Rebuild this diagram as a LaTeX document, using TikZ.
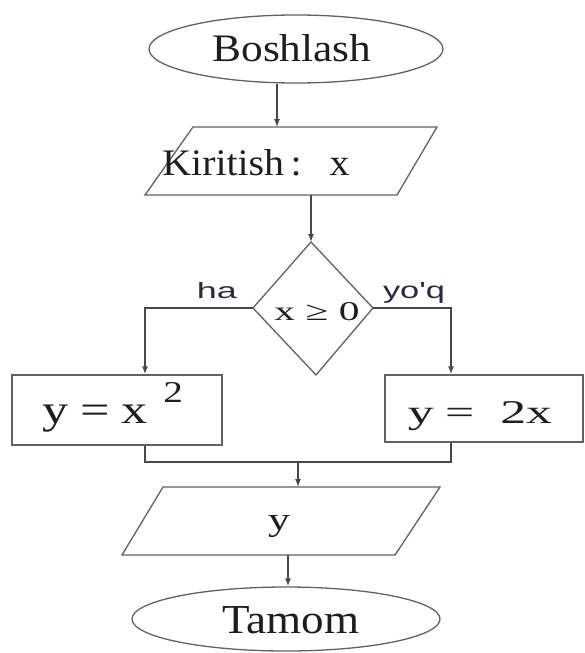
\documentclass[tikz,border=0pt]{standalone}
\usepackage{fontspec}
\usepackage{graphicx}
\usetikzlibrary{arrows.meta,shapes.geometric}
\newfontfamily\serifL{Liberation Serif}
\newfontfamily\sansL{Liberation Sans}
\newcommand{\fitbox}[3]{\resizebox{#1pt}{#2pt}{#3}}
\definecolor{linec}{HTML}{484848}
\definecolor{shapec}{HTML}{626262}
\definecolor{labc}{HTML}{2A2848}
\definecolor{txtc}{HTML}{1E1E1E}
\begin{document}
\begin{tikzpicture}[x=1pt,y=-1pt,
  conn/.style={draw=linec, line width=1.4pt},
  arr/.style={conn, -{Latex[length=8pt,width=6pt]}},
  shapeline/.style={draw=shapec, line width=1.3pt},
  term/.style={ellipse, shapeline, inner sep=0pt},
  procbox/.style={rectangle, shapeline, inner sep=0pt},
  txt/.style={inner sep=0pt, anchor=base, text=txtc},
  lab/.style={inner sep=0pt, anchor=base, text=labc},
]
\useasboundingbox[fill=white] (0,0) rectangle (585,653);

% start
\node[term, minimum width=294pt, minimum height=68pt] (start) at (296,49) {};
\node[txt] (starttext) at (292,61) {\fitbox{159}{27}{\serifL Boshlash}};

% input parallelogram
\coordinate (kTL) at (193,127);
\coordinate (kTR) at (437,127);
\coordinate (kBR) at (397,195);
\coordinate (kBL) at (145,195);
\draw[shapeline] (kTL) -- (kTR) -- (kBR) -- (kBL) -- cycle;
\node[txt] (input) at (256,175) {\fitbox{187}{26}{\serifL Kiritish\,:\hspace{0.7em}x}};

% decision diamond
\coordinate (dTop) at (311,242);
\coordinate (dRight) at (373,308);
\coordinate (dBot) at (316,375);
\coordinate (dLeft) at (253,308);
\draw[shapeline] (dTop) -- (dRight) -- (dBot) -- (dLeft) -- cycle;
\node[txt] (cond) at (317,320) {\fitbox{85}{18}{\serifL x ≥ 0}};

\node[lab] (yes) at (217,298) {\fitbox{40}{16}{\sansL ha}};
\node[lab] (no) at (414,298) {\fitbox{62}{16}{\sansL yo'q}};

% process boxes
\node[procbox, minimum width=210pt, minimum height=70pt] (lbox) at (117,410) {};
\node[txt] (ltext) at (113,423) {\fitbox{140}{41}{\serifL y\hspace{2.2pt}=\hspace{2.2pt}x\hspace{3pt}\raisebox{5.2pt}{\fontsize{7.5}{8}\selectfont 2}}};
\node[procbox, minimum width=198pt, minimum height=67pt] (rbox) at (484,408.5) {};
\node[txt] (rtext) at (480,423) {\fitbox{144}{22}{\serifL y\hspace{2.2pt}=\hspace{5pt}2x}};

% output parallelogram
\coordinate (oTL) at (163,487);
\coordinate (oTR) at (440,487);
\coordinate (oBR) at (395,555);
\coordinate (oBL) at (122,555);
\draw[shapeline] (oTL) -- (oTR) -- (oBR) -- (oBL) -- cycle;
\node[txt] (output) at (279,530) {\fitbox{22}{15}{\serifL y}};

% stop
\node[term, minimum width=308pt, minimum height=64pt] (stop) at (286,619) {};
\node[txt] (stoptext) at (291,633) {\fitbox{137}{27}{\serifL Tamom}};

% connectors
\coordinate (a1) at (277,127);
\draw[arr] (a1 |- start.south) -- (a1);
\draw[arr] (dTop |- kBL) -- (dTop);

\coordinate (lCorner) at (145,308);
\coordinate (rCorner) at (451,308);
\draw[arr] (dLeft) -- (lCorner) -- (lCorner |- lbox.north);
\draw[arr] (dRight) -- (rCorner) -- (rCorner |- rbox.north);

\coordinate (mL) at (145,462);
\coordinate (mR) at (451,462);
\draw[conn] (mL |- lbox.south) -- (mL) -- (mR) -- (mR |- rbox.south);
\coordinate (mC) at (298,462);
\draw[arr] (mC) -- (mC |- oTL);

\coordinate (oOut) at (288,555);
\draw[arr] (oOut) -- (oOut |- stop.north);
\end{tikzpicture}
\end{document}
